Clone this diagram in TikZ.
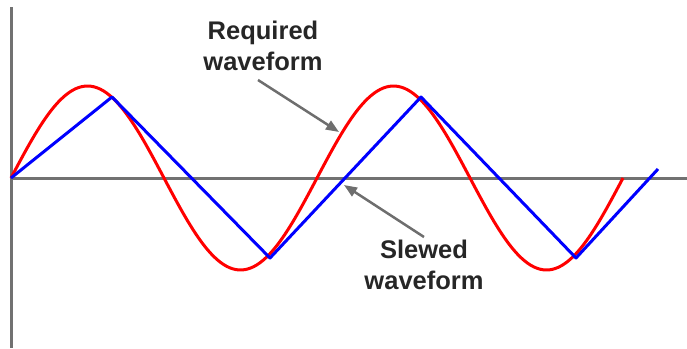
\documentclass[tikz,border=0pt]{standalone}
\usepackage{fontspec}
\setmainfont{Liberation Sans}
\usetikzlibrary{arrows.meta}
\definecolor{axisgray}{HTML}{717171}
\definecolor{arrowgray}{HTML}{6E6E6E}
\tikzset{
  axisline/.style={draw=axisgray, line width=3pt},
  redwave/.style={draw=red, line width=3pt, line join=round},
  bluewave/.style={draw=blue, line width=3pt, line join=round},
  pointer/.style={draw=arrowgray, line width=2.5pt, -{Triangle[length=13pt,width=10pt]}},
  label/.style={font=\bfseries\fontsize{25.5}{31}\selectfont, align=center, inner sep=0pt, text=black!85}
}
\begin{document}
\begin{tikzpicture}[x=1pt,y=-1pt]
\useasboundingbox (0,0) rectangle (687,348);
% axes
\coordinate (vtop) at (11,7);
\coordinate (vbot) at (11,348);
\coordinate (hl) at (11,178);
\coordinate (hr) at (687,178);
\draw[axisline] (vtop) -- (vbot);
\draw[axisline] (hl) -- (hr);
% required waveform
\draw[redwave] plot[domain=11:623, samples=200, smooth] (\x, {178-92*sin((\x-11)/306*360)});
% slewed waveform
\coordinate (b0) at (11,178);
\coordinate (b1) at (112,97);
\coordinate (b2) at (270,258);
\coordinate (b3) at (421,97);
\coordinate (b4) at (576,258);
\coordinate (b5) at (658,169);
\draw[bluewave] (b0) -- (b1) -- (b2) -- (b3) -- (b4) -- (b5);
% labels
\node[label] (req) at (263,46) {Required\\waveform};
\node[label] (slew) at (424,265) {Slewed\\waveform};
\coordinate (p1s) at (258,80);
\coordinate (p1e) at (339,132);
\coordinate (p2s) at (424,237);
\coordinate (p2e) at (344,185);
\draw[pointer] (p1s) -- (p1e);
\draw[pointer] (p2s) -- (p2e);
\end{tikzpicture}
\end{document}
